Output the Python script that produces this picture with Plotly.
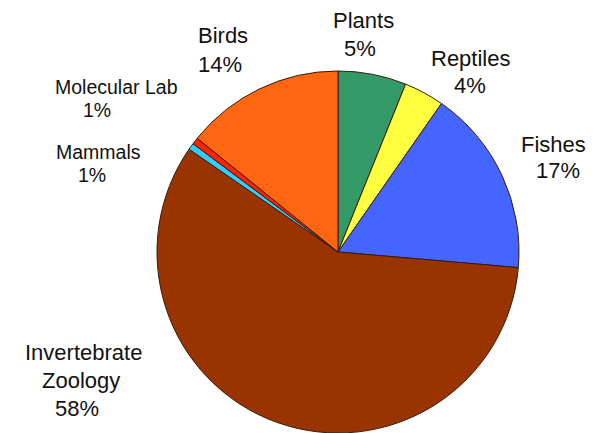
import plotly.graph_objects as go

# Data (clockwise from 12 o'clock)
categories = ["Plants", "Reptiles", "Fishes", "Invertebrate Zoology", "Mammals", "Molecular Lab", "Birds"]
shares = [6.1, 3.6, 16.7, 58.3, 0.6, 0.6, 14.2]
pct_labels = ["5%", "4%", "17%", "58%", "1%", "1%", "14%"]
name_lines = [["Plants"], ["Reptiles"], ["Fishes"], ["Invertebrate", "Zoology"], ["Mammals"], ["Molecular Lab"], ["Birds"]]

colors = ["#339966", "#FFFF40", "#4466FF", "#993300", "#33CCFF", "#FF2200", "#FF6611"]

W, H = 604, 433
CX, CY, R = 338, 252, 181  # pie centre / radius in px

# label layout: (x centre, y centre of first line, line spacing, font size, x of later lines), pixel units
label_layout = {
    "Plants": (363, 21, 28, 22, [360]),
    "Reptiles": (470, 58, 27, 22, [470]),
    "Fishes": (553, 144, 26, 22, [558]),
    "Invertebrate Zoology": (83, 352, 28, 22, [81, 77]),
    "Mammals": (98, 152, 23, 19.5, [92]),
    "Molecular Lab": (116, 87, 23, 19.5, [97]),
    "Birds": (223, 36, 28, 22, [220]),
}

fig = go.Figure(go.Pie(
    labels=categories,
    values=shares,
    sort=False,
    direction="clockwise",
    rotation=0,
    textinfo="none",
    marker=dict(colors=colors, line=dict(color="#3a1a0a", width=1)),
    domain=dict(x=[(CX - R) / W, (CX + R) / W], y=[0, 2 * R / H]),
    showlegend=False,
))

font_family = "Arial, Liberation Sans, sans-serif"
annotations = []
for cat, lines, pct in zip(categories, name_lines, pct_labels):
    x0, y0, dy, fs, extra_x = label_layout[cat]
    texts = lines + [pct]
    xs = [x0] + extra_x
    for i, t in enumerate(texts):
        xi = xs[i] if i < len(xs) else xs[-1]
        yi = y0 + i * dy
        annotations.append(dict(
            x=xi / W, y=1 - yi / H, xref="paper", yref="paper",
            text=t, showarrow=False, xanchor="center", yanchor="middle",
            font=dict(family=font_family, size=fs, color="#111111"),
        ))

fig.update_layout(
    width=W, height=H,
    margin=dict(l=0, r=0, t=0, b=0),
    paper_bgcolor="white",
    plot_bgcolor="white",
    annotations=annotations,
)

fig.write_html("out.html")
